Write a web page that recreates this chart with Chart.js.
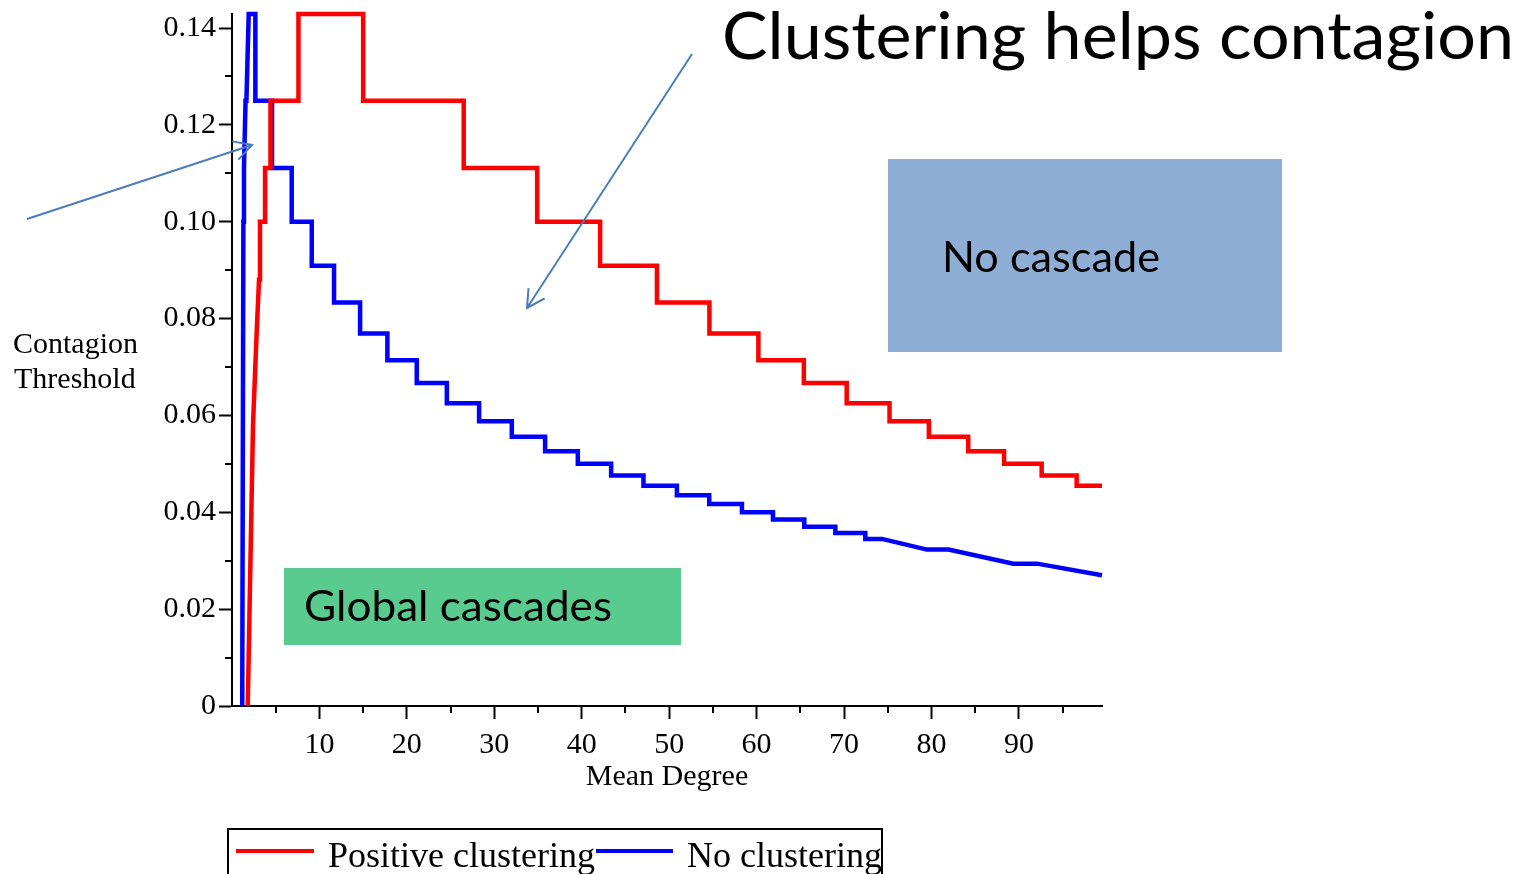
<!DOCTYPE html>
<html>
<head>
<meta charset="utf-8">
<title>Clustering helps contagion</title>
<script src="https://cdn.jsdelivr.net/npm/chart.js@4.4.0/dist/chart.umd.min.js"></script>
<style>
    html, body { margin: 0; padding: 0; background: #fff; }
    #wrap { width: 1516px; height: 874px; position: relative; }
</style>
</head>
<body>
<div id="wrap"><canvas id="thresholdChart"></canvas></div>
<script>
// ============================================
// Contagion threshold vs mean degree
// ============================================

// Positive clustering: initial rise, then steps (degree where the level changes, new level)
const redRiseDeg = [1.8, 2.4, 2.83, 3.09, 3.2];
const redRiseThr = [0, 0.058, 0.0776, 0.088, 0.0909];
const redStepDeg = [3.2, 3.78, 4.4, 7.6, 15.0, 26.5, 34.9, 42.1, 48.6, 54.6, 60.2, 65.4, 70.3, 75.2, 79.7, 84.2, 88.3, 92.6, 96.6];
const redStepThr = [0.1, 0.1111, 0.125, 0.1429, 0.125, 0.1111, 0.1, 0.0909, 0.0833, 0.0769, 0.0714, 0.0667, 0.0625, 0.0588, 0.0556, 0.0526, 0.05, 0.0476, 0.0455];
const redEndDeg = 99.5;

// No clustering
const blueRiseDeg = [1.17, 1.3, 1.37, 1.55, 1.65, 1.91];
const blueRiseThr = [0, 0.1, 0.1111, 0.125, 0.125, 0.1429];
const blueStepDeg = [2.67, 4.58, 6.83, 9.12, 11.67, 14.65, 17.77, 21.13, 24.57, 28.26, 32.0, 35.81, 39.55, 43.36, 47.06, 50.88, 54.58, 58.32, 61.87, 65.45, 69.0, 72.43];
const blueStepThr = [0.125, 0.1111, 0.1, 0.0909, 0.0833, 0.0769, 0.0714, 0.0667, 0.0625, 0.0588, 0.0556, 0.0526, 0.05, 0.0476, 0.0455, 0.0435, 0.0417, 0.04, 0.0385, 0.037, 0.0357, 0.0345];
const blueTailDeg = [74.34, 79.48, 81.95, 89.36, 92.07, 99.5];
const blueTailThr = [0.0345, 0.0323, 0.0323, 0.0294, 0.0294, 0.027];

const xTickValues = [10, 20, 30, 40, 50, 60, 70, 80, 90];
const seriesLabels = ["Positive clustering", "No clustering"];

const SERIF = '"Liberation Serif", "Times New Roman", serif';
const SANS = 'Lato, "Open Sans", sans-serif';

function buildSteps(riseDeg, riseThr, stepDeg, stepThr) {
    const pts = riseDeg.map((d, i) => ({ x: d, y: riseThr[i] }));
    stepDeg.forEach((d, i) => {
        const prev = pts[pts.length - 1].y;
        pts.push({ x: d, y: prev });
        pts.push({ x: d, y: stepThr[i] });
    });
    return pts;
}

const redPoints = buildSteps(redRiseDeg, redRiseThr, redStepDeg, redStepThr);
redPoints.push({ x: redEndDeg, y: redStepThr[redStepThr.length - 1] });

const bluePoints = buildSteps(blueRiseDeg, blueRiseThr, blueStepDeg, blueStepThr);
blueTailDeg.forEach((d, i) => bluePoints.push({ x: d, y: blueTailThr[i] }));

function stretchText(ctx, text, x, baseline, size, width) {
    ctx.save();
    ctx.font = size + "px " + SANS;
    const w = ctx.measureText(text).width;
    ctx.translate(x, baseline);
    ctx.scale(width / w, 1);
    ctx.fillStyle = "#000";
    ctx.textAlign = "left";
    ctx.textBaseline = "alphabetic";
    ctx.fillText(text, 0, 0);
    ctx.restore();
}

function arrow(ctx, x1, y1, x2, y2) {
    const ang = Math.atan2(y2 - y1, x2 - x1);
    const len = 20;
    ctx.beginPath();
    ctx.moveTo(x1, y1);
    ctx.lineTo(x2, y2);
    ctx.moveTo(x2 - len * Math.cos(ang - 0.5), y2 - len * Math.sin(ang - 0.5));
    ctx.lineTo(x2, y2);
    ctx.lineTo(x2 - len * Math.cos(ang + 0.5), y2 - len * Math.sin(ang + 0.5));
    ctx.stroke();
}

const overlayPlugin = {
    id: "overlay",
    beforeDatasetsDraw(chart) {
        const ctx = chart.ctx;
        ctx.save();
        ctx.fillStyle = "#8faed5";
        ctx.fillRect(888, 159, 394, 193);
        ctx.fillStyle = "#59cb8e";
        ctx.fillRect(284, 568, 397, 77);
        ctx.restore();
    },
    afterDatasetsDraw(chart) {
        const ctx = chart.ctx;
        const xs = chart.scales.x;
        const ys = chart.scales.y;

        // minor ticks
        ctx.save();
        ctx.strokeStyle = "#000";
        ctx.lineWidth = 2;
        for (let v = 0.01; v < 0.14; v += 0.02) {
            const py = Math.round(ys.getPixelForValue(v));
            ctx.beginPath();
            ctx.moveTo(xs.left - 7, py);
            ctx.lineTo(xs.left, py);
            ctx.stroke();
        }
        for (let v = 5; v < 100; v += 10) {
            const px = Math.round(xs.getPixelForValue(v));
            ctx.beginPath();
            ctx.moveTo(px, ys.bottom);
            ctx.lineTo(px, ys.bottom + 7);
            ctx.stroke();
        }
        ctx.restore();

        // arrows
        ctx.save();
        ctx.strokeStyle = "#4a7ebb";
        ctx.lineWidth = 2;
        arrow(ctx, 27, 219, 252, 145);
        arrow(ctx, 692, 54, 527, 308);
        ctx.restore();

        // annotation texts
        stretchText(ctx, "Clustering helps contagion", 722, 59, 66, 792);
        stretchText(ctx, "No cascade", 942, 272, 42, 218);
        stretchText(ctx, "Global cascades", 304, 621, 42, 308);

        // y axis title
        ctx.save();
        ctx.fillStyle = "#000";
        ctx.font = "30px " + SERIF;
        ctx.textAlign = "left";
        ctx.textBaseline = "alphabetic";
        ctx.fillText("Contagion", 13, 353);
        ctx.fillText("Threshold", 14, 388);
        ctx.restore();

        // legend
        ctx.save();
        ctx.strokeStyle = "#000";
        ctx.lineWidth = 2;
        ctx.strokeRect(228, 829, 654, 60);
        const ds = chart.data.datasets;
        const items = [
            { x1: 236, x2: 314, tx: 328 },
            { x1: 596, x2: 673, tx: 687 }
        ];
        items.forEach((it, i) => {
            ctx.strokeStyle = ds[i].borderColor;
            ctx.lineWidth = 4;
            ctx.beginPath();
            ctx.moveTo(it.x1, 851);
            ctx.lineTo(it.x2, 851);
            ctx.stroke();
            ctx.fillStyle = "#000";
            ctx.font = "36px " + SERIF;
            ctx.textBaseline = "alphabetic";
            ctx.fillText(ds[i].label, it.tx, 867);
        });
        ctx.restore();
    }
};

new Chart(document.getElementById("thresholdChart"), {
    type: "scatter",
    data: {
        datasets: [
            {
                label: seriesLabels[0],
                data: redPoints,
                showLine: true,
                borderColor: "#ff0000",
                borderWidth: 4.5,
                pointRadius: 0,
                tension: 0,
                clip: false
            },
            {
                label: seriesLabels[1],
                data: bluePoints,
                showLine: true,
                borderColor: "#0000ff",
                borderWidth: 4.5,
                pointRadius: 0,
                tension: 0,
                clip: false
            }
        ]
    },
    options: {
        responsive: true,
        maintainAspectRatio: false,
        animation: false,
        events: [],
        layout: { padding: { left: 0, top: 14, right: 414, bottom: 79 } },
        plugins: {
            legend: { display: false },
            tooltip: { enabled: false }
        },
        scales: {
            x: {
                type: "linear",
                min: 0,
                max: 99.5,
                afterFit(scale) {
                    scale.height = 89;
                    scale.paddingLeft = 0;
                    scale.paddingRight = 0;
                },
                afterBuildTicks(scale) {
                    scale.ticks = xTickValues.map((v) => ({ value: v }));
                },
                border: { display: true, color: "#000", width: 2 },
                grid: {
                    drawOnChartArea: false,
                    drawTicks: true,
                    tickLength: 13,
                    tickColor: "#000",
                    tickWidth: 2
                },
                ticks: {
                    color: "#000",
                    padding: 8,
                    maxRotation: 0,
                    font: { family: SERIF, size: 30 }
                },
                title: {
                    display: true,
                    text: "Mean Degree",
                    color: "#000",
                    padding: 0,
                    font: { family: SERIF, size: 30 }
                }
            },
            y: {
                min: 0,
                max: 0.1429,
                afterFit(scale) {
                    scale.width = 232;
                    scale.paddingTop = 0;
                    scale.paddingBottom = 0;
                },
                border: { display: true, color: "#000", width: 2 },
                grid: {
                    drawOnChartArea: false,
                    drawTicks: true,
                    tickLength: 13,
                    tickColor: "#000",
                    tickWidth: 2
                },
                ticks: {
                    stepSize: 0.02,
                    includeBounds: false,
                    color: "#000",
                    padding: 3,
                    font: { family: SERIF, size: 30 },
                    callback: (v) => (v === 0 ? "0" : v.toFixed(2))
                }
            }
        }
    },
    plugins: [overlayPlugin]
});
</script>
</body>
</html>
